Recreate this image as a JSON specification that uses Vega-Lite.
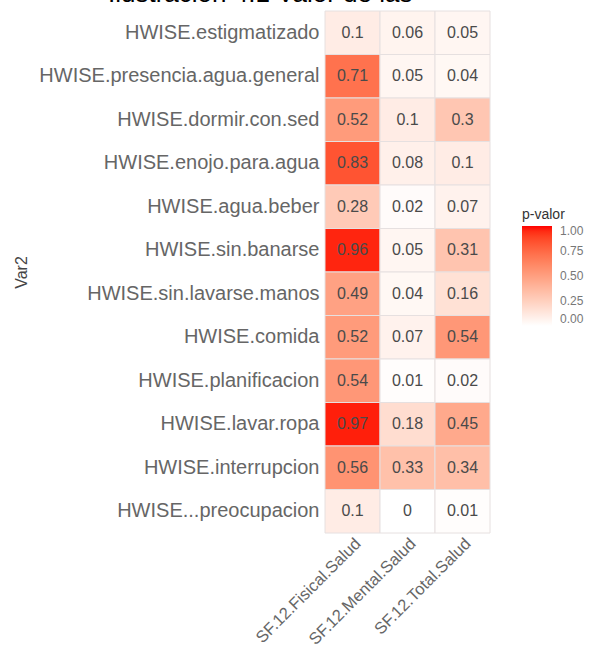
{
  "$schema": "https://vega.github.io/schema/vega-lite/v6.json",
  "autosize": {"type": "none"},
  "padding": {"top": 11, "left": 325, "right": 107, "bottom": 119},
  "width": 165,
  "height": 522,
  "background": "white",
  "title": {
    "text": "Ilustración 4.1 Valor de las",
    "anchor": "start",
    "frame": "group",
    "dx": -217,
    "dy": 17,
    "offset": 0,
    "baseline": "alphabetic",
    "font": "Liberation Sans",
    "fontSize": 26,
    "fontWeight": "normal",
    "color": "#000000"
  },
  "data": {
    "values": [
      {"var2": "HWISE.estigmatizado", "var1": "SF.12.Fisical.Salud", "p": 0.1},
      {"var2": "HWISE.estigmatizado", "var1": "SF.12.Mental.Salud", "p": 0.06},
      {"var2": "HWISE.estigmatizado", "var1": "SF.12.Total.Salud", "p": 0.05},
      {"var2": "HWISE.presencia.agua.general", "var1": "SF.12.Fisical.Salud", "p": 0.71},
      {"var2": "HWISE.presencia.agua.general", "var1": "SF.12.Mental.Salud", "p": 0.05},
      {"var2": "HWISE.presencia.agua.general", "var1": "SF.12.Total.Salud", "p": 0.04},
      {"var2": "HWISE.dormir.con.sed", "var1": "SF.12.Fisical.Salud", "p": 0.52},
      {"var2": "HWISE.dormir.con.sed", "var1": "SF.12.Mental.Salud", "p": 0.1},
      {"var2": "HWISE.dormir.con.sed", "var1": "SF.12.Total.Salud", "p": 0.3},
      {"var2": "HWISE.enojo.para.agua", "var1": "SF.12.Fisical.Salud", "p": 0.83},
      {"var2": "HWISE.enojo.para.agua", "var1": "SF.12.Mental.Salud", "p": 0.08},
      {"var2": "HWISE.enojo.para.agua", "var1": "SF.12.Total.Salud", "p": 0.1},
      {"var2": "HWISE.agua.beber", "var1": "SF.12.Fisical.Salud", "p": 0.28},
      {"var2": "HWISE.agua.beber", "var1": "SF.12.Mental.Salud", "p": 0.02},
      {"var2": "HWISE.agua.beber", "var1": "SF.12.Total.Salud", "p": 0.07},
      {"var2": "HWISE.sin.banarse", "var1": "SF.12.Fisical.Salud", "p": 0.96},
      {"var2": "HWISE.sin.banarse", "var1": "SF.12.Mental.Salud", "p": 0.05},
      {"var2": "HWISE.sin.banarse", "var1": "SF.12.Total.Salud", "p": 0.31},
      {"var2": "HWISE.sin.lavarse.manos", "var1": "SF.12.Fisical.Salud", "p": 0.49},
      {"var2": "HWISE.sin.lavarse.manos", "var1": "SF.12.Mental.Salud", "p": 0.04},
      {"var2": "HWISE.sin.lavarse.manos", "var1": "SF.12.Total.Salud", "p": 0.16},
      {"var2": "HWISE.comida", "var1": "SF.12.Fisical.Salud", "p": 0.52},
      {"var2": "HWISE.comida", "var1": "SF.12.Mental.Salud", "p": 0.07},
      {"var2": "HWISE.comida", "var1": "SF.12.Total.Salud", "p": 0.54},
      {"var2": "HWISE.planificacion", "var1": "SF.12.Fisical.Salud", "p": 0.54},
      {"var2": "HWISE.planificacion", "var1": "SF.12.Mental.Salud", "p": 0.01},
      {"var2": "HWISE.planificacion", "var1": "SF.12.Total.Salud", "p": 0.02},
      {"var2": "HWISE.lavar.ropa", "var1": "SF.12.Fisical.Salud", "p": 0.97},
      {"var2": "HWISE.lavar.ropa", "var1": "SF.12.Mental.Salud", "p": 0.18},
      {"var2": "HWISE.lavar.ropa", "var1": "SF.12.Total.Salud", "p": 0.45},
      {"var2": "HWISE.interrupcion", "var1": "SF.12.Fisical.Salud", "p": 0.56},
      {"var2": "HWISE.interrupcion", "var1": "SF.12.Mental.Salud", "p": 0.33},
      {"var2": "HWISE.interrupcion", "var1": "SF.12.Total.Salud", "p": 0.34},
      {"var2": "HWISE...preocupacion", "var1": "SF.12.Fisical.Salud", "p": 0.1},
      {"var2": "HWISE...preocupacion", "var1": "SF.12.Mental.Salud", "p": 0},
      {"var2": "HWISE...preocupacion", "var1": "SF.12.Total.Salud", "p": 0.01}
    ]
  },
  "encoding": {
    "x": {
      "field": "var1", "type": "nominal", "sort": null,
      "scale": {"paddingInner": 0, "paddingOuter": 0},
      "axis": {
        "title": null, "labelAngle": -45, "labelAlign": "right", "labelBaseline": "top",
        "labelFont": "Liberation Sans", "labelFontSize": 16.5, "labelColor": "#666666",
        "labelLimit": 0, "domain": false, "ticks": false, "labelPadding": 2
      }
    },
    "y": {
      "field": "var2", "type": "nominal", "sort": null,
      "scale": {"paddingInner": 0, "paddingOuter": 0},
      "axis": {
        "title": "Var2", "titleFont": "Liberation Sans", "titleFontSize": 16,
        "titleFontWeight": "normal", "titleColor": "#444444",
        "titleX": -296, "titleBaseline": "bottom",
        "labelFont": "Liberation Sans", "labelFontSize": 20, "labelColor": "#666666",
        "labelLimit": 0, "domain": false, "ticks": false, "labelPadding": 6
      }
    }
  },
  "layer": [
    {
      "mark": {"type": "rect", "stroke": "#e6e0e0", "strokeWidth": 1},
      "encoding": {
        "color": {
          "field": "p", "type": "quantitative",
          "scale": {"domain": [0, 1], "range": ["#ffffff", "#ff0000"], "interpolate": "lab"},
          "legend": {
            "title": "p-valor", "orient": "none", "legendX": 197, "legendY": 197,
            "titleFont": "Liberation Sans", "titleFontSize": 14, "titleFontWeight": "normal",
            "titleColor": "#333333", "titlePadding": 4,
            "gradientLength": 100, "gradientThickness": 30,
            "values": [0, 0.25, 0.5, 0.75, 1], "format": ".2f",
            "labelFont": "Liberation Sans", "labelFontSize": 12, "labelColor": "#777777",
            "labelOffset": 8
          }
        }
      }
    },
    {
      "mark": {"type": "text", "font": "Liberation Sans", "fontSize": 16, "color": "#4a4a4a"},
      "encoding": {
        "text": {"field": "p", "type": "quantitative"}
      }
    }
  ],
  "config": {"view": {"stroke": null}}
}
